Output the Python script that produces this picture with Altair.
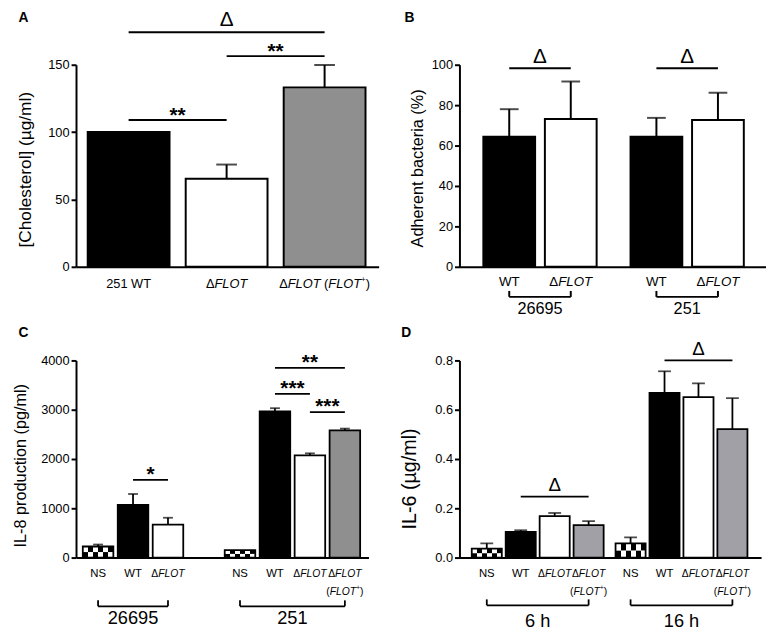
import altair as alt
import pandas as pd

FONT = "Liberation Sans"

# ---------------- data ----------------
# Panel A
A_groups = ["251", "251", "251"]
A_kinds = ["wt", "mut", "comp"]
A_values = [100.0, 65.3, 133.2]
A_upper = [100.0, 75.9, 149.8]
A_sig_group = ["251", "251", "251"]
A_sig_from = ["wt", "mut", "wt"]
A_sig_to = ["mut", "comp", "comp"]
A_sig_level = [109.0, 156.4, 174.1]
A_sig_mark = ["**", "**", "Δ"]
A_yticks = [0, 50, 100, 150]

# Panel B
B_groups = ["26695", "26695", "251", "251"]
B_kinds = ["wt", "mut", "wt", "mut"]
B_values = [64.4, 73.1, 64.4, 72.6]
B_upper = [78.0, 91.7, 73.7, 86.1]
B_sig_group = ["26695", "251"]
B_sig_from = ["wt", "wt"]
B_sig_to = ["mut", "mut"]
B_sig_level = [98.3, 98.3]
B_sig_mark = ["Δ", "Δ"]
B_yticks = [0, 20, 40, 60, 80, 100]

# Panel C
C_groups = ["26695", "26695", "26695", "251", "251", "251", "251"]
C_kinds = ["ns", "wt", "mut", "ns", "wt", "mut", "comp"]
C_values = [225, 1069, 667, 150, 2965, 2074, 2583]
C_upper = [265, 1290, 808, 150, 3031, 2115, 2617]
C_sig_group = ["26695", "251", "251", "251"]
C_sig_from = ["wt", "wt", "mut", "wt"]
C_sig_to = ["mut", "mut", "comp", "comp"]
C_sig_level = [1578, 3321, 2951, 3849]
C_sig_mark = ["*", "***", "***", "**"]
C_yticks = [0, 1000, 2000, 3000, 4000]

# Panel D
D_groups = ["6 h", "6 h", "6 h", "6 h", "16 h", "16 h", "16 h", "16 h"]
D_kinds = ["ns", "wt", "mut", "comp", "ns", "wt", "mut", "comp"]
D_values = [0.036, 0.104, 0.168, 0.132, 0.058, 0.668, 0.651, 0.521]
D_upper = [0.058, 0.111, 0.181, 0.148, 0.082, 0.756, 0.707, 0.647]
D_sig_group = ["6 h", "16 h"]
D_sig_from = ["wt", "wt"]
D_sig_to = ["comp", "comp"]
D_sig_level = [0.247, 0.800]
D_sig_mark = ["Δ", "Δ"]
D_yticks = [0, 0.2, 0.4, 0.6, 0.8]

# tick-label texts as styled runs (n = upright, i = italic, sup = superscript)
LBL_NS = [[("NS", "n")]]
LBL_WT = [[("WT", "n")]]
LBL_251WT = [[("251 WT", "n")]]
LBL_MUT = [[("Δ", "n"), ("FLOT", "i")]]
LBL_COMP_1 = [[("Δ", "n"), ("FLOT", "i"), (" (", "n"), ("FLOT", "i"), ("+", "sup"), (")", "n")]]
LBL_COMP_2 = [[("Δ", "n"), ("FLOT", "i")], [("(", "n"), ("FLOT", "i"), ("+", "sup"), (")", "n")]]

# Arial / Liberation Sans advance widths (em)
CW = {"Δ": 0.668, "F": 0.611, "L": 0.556, "O": 0.778, "T": 0.611, "(": 0.333, ")": 0.333,
      " ": 0.278, "+": 0.584, "W": 0.944, "N": 0.722, "S": 0.667}


def text_w(t, size):
    return sum(CW.get(ch, 0.556) for ch in t) * size


def checker(phase, n=6):
    stops = []
    for k in range(n):
        c = "black" if (k + phase) % 2 == 0 else "white"
        stops.append(alt.GradientStop(color=c, offset=k / n))
        stops.append(alt.GradientStop(color=c, offset=(k + 1) / n))
    return alt.LinearGradient(gradient="linear", stops=stops, x1=0, x2=1, y1=0, y2=0)


def panel(groups, kinds, values, upper, sg, sf, st, sl, sm, yticks, P):
    order = list(dict.fromkeys(groups))
    seen = {}
    rows = []
    for g, k, v, u in zip(groups, kinds, values, upper):
        gi = order.index(g)
        ii = seen.get(g, 0)
        seen[g] = ii + 1
        rows.append(dict(group=g, kind=k, val=v, upper=u, half=v / 2.0,
                         pos=gi * P["gstep"] + ii))
    df = pd.DataFrame(rows)
    posof = {(r.group, r.kind): r.pos for r in df.itertuples()}
    sig = pd.DataFrame({
        "x1": [posof[(g, a)] for g, a in zip(sg, sf)],
        "x2": [posof[(g, b)] for g, b in zip(sg, st)],
        "level": sl, "mark": sm})
    sig["mid"] = (sig.x1 + sig.x2) / 2

    h = P["h"]
    sw = P["sw"]
    xs = alt.Scale(domain=P["xdom"], nice=False, zero=False)
    ys = alt.Scale(domain=[0, yticks[-1]], nice=False, zero=True)
    xax = alt.Axis(labels=False, ticks=False, title=None, grid=False, domain=True)
    yax = alt.Axis(values=yticks, format=P["yfmt"], title=P["title"], titleX=P["titleX"],
                   titleY=P["titleY"], titleAngle=270, titleAlign="center",
                   titleBaseline="bottom", titleFontSize=P["tfs"], grid=False)

    def X(f):
        return alt.X(f, type="quantitative", scale=xs, axis=xax)

    def Y(f):
        return alt.Y(f, type="quantitative", scale=ys, axis=yax)

    L = []
    for kind, fill in [("wt", "black"), ("mut", "white"), ("comp", P["grey"])]:
        sub = df[df.kind == kind]
        if len(sub):
            L.append(alt.Chart(sub).mark_bar(orient="vertical", size=P["bw"], fill=fill,
                                             stroke="black", strokeWidth=sw)
                     .encode(x=X("pos"), y=Y("val")))
    ns = df[df.kind == "ns"]
    if len(ns):
        L.append(alt.Chart(ns).mark_bar(orient="vertical", size=P["bw"], fill=checker(0), strokeWidth=0)
                 .encode(x=X("pos"), y=Y("half")))
        L.append(alt.Chart(ns).mark_bar(orient="vertical", size=P["bw"], fill=checker(1), strokeWidth=0)
                 .encode(x=X("pos"), y=Y("val"), y2=alt.Y2("half")))
        L.append(alt.Chart(ns).mark_bar(orient="vertical", size=P["bw"], fill="white", fillOpacity=0,
                                        stroke="black", strokeWidth=sw)
                 .encode(x=X("pos"), y=Y("val")))
    eb = df[df.upper > df.val]
    L.append(alt.Chart(eb).mark_rule(color="black", strokeWidth=sw)
             .encode(x=X("pos"), y=Y("val"), y2=alt.Y2("upper")))
    L.append(alt.Chart(eb).mark_tick(orient="horizontal", size=P["cap"], thickness=sw, color="black")
             .encode(x=X("pos"), y=Y("upper")))

    # significance annotations
    L.append(alt.Chart(sig).mark_rule(color="black", strokeWidth=sw)
             .encode(x=X("x1"), x2=alt.X2("x2"), y=Y("level")))
    stars = sig[sig.mark != "Δ"]
    if len(stars):
        L.append(alt.Chart(stars).mark_text(font=FONT, fontSize=P["sfs"], fontWeight="bold",
                                            baseline="alphabetic", dy=P["sdy"], color="black")
                 .encode(x=X("mid"), y=Y("level"), text="mark:N"))
    deltas = sig[sig.mark == "Δ"]
    if len(deltas):
        L.append(alt.Chart(deltas).mark_text(font=FONT, fontSize=P["dfs"],
                                             baseline=P.get("dbase", "alphabetic"), dy=P["ddy"],
                                             color="black")
                 .encode(x=X("mid"), y=Y("level"), text="mark:N"))

    # category labels under the axis
    for kind, lines in P["labels"].items():
        sub = df[df.kind == kind]
        if not len(sub):
            continue
        size = P["lfs_kind"].get(kind, P["lfs"])
        for runs, base in zip(lines, P["lbase"]):
            ws = []
            for t, s in runs:
                ws.append(text_w(t, size * 0.62 if s == "sup" else size))
            cur = -sum(ws) / 2
            for (t, s), w in zip(runs, ws):
                fs = size * 0.62 if s == "sup" else size
                lead = len(t) - len(t.lstrip(" "))
                shown = t.lstrip(" ")
                L.append(alt.Chart(sub).mark_text(
                    text=shown, font=FONT, fontSize=fs,
                    fontStyle="italic" if s == "i" else "normal",
                    align="left", baseline="alphabetic", dx=cur + text_w(" " * lead, fs),
                    dy=(-size * 0.42 if s == "sup" else 0), color="black")
                    .encode(x=X("pos"), y=alt.value(h + base)))
                cur += w

    # group brackets and names
    if P.get("bracket") is not None:
        grp = df.groupby("group", sort=False).agg(start=("pos", "min"), end=("pos", "max")).reset_index()
        grp["mid"] = (grp.start + grp.end) / 2
        b = h + P["bracket"]
        L.append(alt.Chart(grp).mark_rule(color="black", strokeWidth=sw)
                 .encode(x=X("start"), x2=alt.X2("end"), y=alt.value(b)))
        for f in ["start", "end"]:
            L.append(alt.Chart(grp).mark_rule(color="black", strokeWidth=sw)
                     .encode(x=X(f), y=alt.value(b - 6), y2=alt.value(b)))
        L.append(alt.Chart(grp).mark_text(font=FONT, fontSize=P["gfs"], baseline="alphabetic",
                                          color="black")
                 .encode(x=X("mid"), y=alt.value(h + P["gbase"]), text="group:N"))

    L.append(alt.Chart(pd.DataFrame({"t": [P["letter"]]})).mark_text(
        font=FONT, fontSize=14, fontWeight="bold", align="left", baseline="top", color="black")
        .encode(x=alt.value(P["lx"]), y=alt.value(P["ly"]), text="t:N"))

    return alt.layer(*L).properties(width=P["w"], height=h)


PA = dict(w=307, h=205, xdom=[-0.4866, 2.501], gstep=3, bw=83, cap=21, sw=2,
          yfmt="d", title="[Cholesterol] (µg/ml)", titleX=-42, titleY=106, tfs=17.5,
          grey="#8f8f8f", sfs=21, sdy=2, dfs=21, ddy=-23.1, dbase="top",
          lfs=13, lfs_kind={}, lbase=[21.3],
          labels={"wt": LBL_251WT, "mut": LBL_MUT, "comp": LBL_COMP_1},
          letter="A", lx=-58.3, ly=-54.7)
PB = dict(w=311, h=205, xdom=[-0.729, 4.093], gstep=2.392, bw=52.5, cap=19, sw=2,
          yfmt="d", title="Adherent bacteria (%)", titleX=-34, titleY=104.7, tfs=16.5,
          grey="#8f8f8f", sfs=21, sdy=1, dfs=21, ddy=-5.7,
          lfs=13.5, lfs_kind={}, lbase=[19.3], labels={"wt": LBL_WT, "mut": LBL_MUT},
          bracket=30.5, gbase=48.3, gfs=16.5,
          letter="B", lx=-55.7, ly=-54.7)
PC = dict(w=296.7, h=200, xdom=[-0.490, 7.594], gstep=4.06, bw=31, cap=10, sw=1.8,
          yfmt="d", title="IL-8 production (pg/ml)", titleX=-48.3, titleY=106.3, tfs=16.5,
          grey="#8f8f8f", sfs=21, sdy=1, dfs=19, ddy=-5.4,
          lfs=11.5, lfs_kind={"mut": 10.5, "comp": 10.5}, lbase=[19.4, 37.7],
          labels={"ns": LBL_NS, "wt": LBL_WT, "mut": LBL_MUT, "comp": LBL_COMP_2},
          bracket=49.4, gbase=67.5, gfs=18.5,
          letter="C", lx=-58.3, ly=-34.7)
PD = dict(w=306, h=200, xdom=[-0.660, 7.935], gstep=4.236, bw=30.5, cap=13, sw=1.8,
          yfmt=".1f", title="IL-6 (µg/ml)", titleX=-40.7, titleY=119.7, tfs=20,
          grey="#a0a0a6", sfs=21, sdy=1, dfs=19, ddy=-5.4,
          lfs=11.5, lfs_kind={"mut": 10.5, "comp": 10.5}, lbase=[19.4, 37.7],
          labels={"ns": LBL_NS, "wt": LBL_WT, "mut": LBL_MUT, "comp": LBL_COMP_2},
          bracket=48.4, gbase=70.8, gfs=18.5,
          letter="D", lx=-59, ly=-34.7)

A = panel(A_groups, A_kinds, A_values, A_upper, A_sig_group, A_sig_from, A_sig_to, A_sig_level, A_sig_mark, A_yticks, PA)
B = panel(B_groups, B_kinds, B_values, B_upper, B_sig_group, B_sig_from, B_sig_to, B_sig_level, B_sig_mark, B_yticks, PB)
C = panel(C_groups, C_kinds, C_values, C_upper, C_sig_group, C_sig_from, C_sig_to, C_sig_level, C_sig_mark, C_yticks, PC)
D = panel(D_groups, D_kinds, D_values, D_upper, D_sig_group, D_sig_from, D_sig_to, D_sig_level, D_sig_mark, D_yticks, PD)

chart = alt.concat(A, B, C, D, columns=2, spacing={"row": 95, "column": 82}, bounds="flush").properties(
    padding={"left": 4, "top": -4, "right": 0, "bottom": 0}
).configure_view(stroke=None).configure_axis(
    labelFont=FONT, labelFontSize=13, labelColor="black", labelPadding=2,
    titleFont=FONT, titleColor="black", titleFontWeight="normal",
    domainColor="black", domainWidth=2, tickColor="black", tickWidth=2, tickSize=5,
)

chart.save("out.html", embed_options={"renderer": "svg", "actions": False})
